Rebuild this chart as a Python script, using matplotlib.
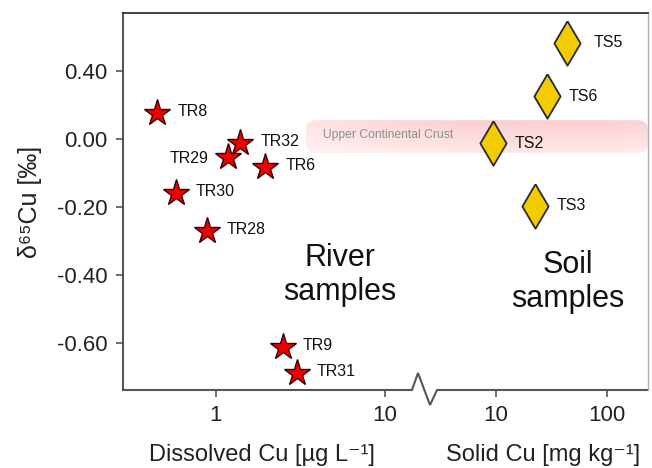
import matplotlib.pyplot as plt
import numpy as np
from matplotlib.patches import FancyBboxPatch
from matplotlib.lines import Line2D
from matplotlib.ticker import NullLocator

plt.rcParams['font.family'] = ['Liberation Sans', 'DejaVu Sans']

# River samples: dissolved Cu (ug/L) vs d65Cu
river_names = ["TR8", "TR32", "TR29", "TR6", "TR30", "TR28", "TR9", "TR31"]
river_cu = [0.45, 1.39, 1.18, 1.95, 0.58, 0.88, 2.49, 3.01]
river_d65 = [0.077, -0.011, -0.052, -0.081, -0.158, -0.27, -0.61, -0.687]

# Soil samples: solid Cu (mg/kg) vs d65Cu
soil_names = ["TS5", "TS6", "TS2", "TS3"]
soil_cu = [43.6, 28.8, 9.4, 22.4]
soil_d65 = [0.283, 0.127, -0.011, -0.196]

# Upper continental crust band
ucc_low, ucc_high = -0.041, 0.056
ucc_start = 3.4  # on dissolved axis

yticks = [0.2, 0.0, -0.2, -0.4, -0.6]
ytick_labels = ["0.40", "0.00", "-0.20", "-0.40", "-0.60"]
left_xticks = [1, 10]
right_xticks = [10, 100]

W, H = 652, 468
L, R, T, B, BRK = 123, 648, 12.7, 390, 424

fig = plt.figure(figsize=(W / 100, H / 100), dpi=100)
ax1 = fig.add_axes([L / W, 1 - B / H, (BRK - L) / W, (B - T) / H])
ax2 = fig.add_axes([BRK / W, 1 - B / H, (R - BRK) / W, (B - T) / H], sharey=ax1)
ax1.set_zorder(0)
ax2.set_zorder(2)
ax2.patch.set_visible(False)

for ax in (ax1, ax2):
    ax.set_xscale('log')
    ax.xaxis.set_minor_locator(NullLocator())
    ax.spines['bottom'].set_visible(False)
    ax.spines['top'].set_color('#333333')
    ax.spines['top'].set_linewidth(1.3)
    ax.tick_params(axis='both', direction='out', length=5, width=1.2, color='#555555',
                   labelsize=16, labelcolor='#222222', pad=6)

ax1.set_xlim(0.282, 17.0)
ax2.set_xlim(2.245, 234)
ax1.set_ylim(-0.737, 0.372)

ax1.spines['right'].set_visible(False)
ax1.spines['left'].set_color('#555555')
ax1.spines['left'].set_linewidth(1.5)
ax2.spines['left'].set_visible(False)
ax2.spines['right'].set_color('#b0b0b0')
ax2.spines['right'].set_linewidth(1.0)

ax1.set_yticks(yticks)
ax1.set_yticklabels(ytick_labels)
ax2.tick_params(axis='y', left=False, labelleft=False)
ax1.set_xticks(left_xticks)
ax1.set_xticklabels([str(v) for v in left_xticks])
ax2.set_xticks(right_xticks)
ax2.set_xticklabels([str(v) for v in right_xticks])

# markers
ax1.plot(river_cu, river_d65, linestyle='none', marker='*', markersize=20,
         markerfacecolor='#ee0000', markeredgecolor='#3a0000', markeredgewidth=1.0)
diamond = [(0, 1), (0.59, 0), (0, -1), (-0.59, 0), (0, 1)]
ax2.plot(soil_cu, soil_d65, linestyle='none', marker=diamond, markersize=32,
         markerfacecolor='#f2cc00', markeredgecolor='#2a2a2a', markeredgewidth=1.3)

river_off = {"TR29": (-14, -1)}
for name, x, y in zip(river_names, river_cu, river_d65):
    dx, dy = river_off.get(name, (14.5, 1))
    ax1.annotate(name, (x, y), xytext=(dx, dy), textcoords='offset points',
                 ha='left' if dx > 0 else 'right', va='center', fontsize=11.5, color='#111111')

soil_off = {"TS5": 19}
for name, x, y in zip(soil_names, soil_cu, soil_d65):
    dx = soil_off.get(name, 15.5)
    ax2.annotate(name, (x, y), xytext=(dx, 0), textcoords='offset points',
                 ha='left', va='center', fontsize=11.5, color='#111111')

# UCC band as gradient, spanning both panels (band axes in pixel units)
x0, y0 = ax1.transData.transform((ucc_start, ucc_low))
_, y1 = ax1.transData.transform((ucc_start, ucc_high))
x1 = R
bw, bh = x1 - x0, y1 - y0
bax = fig.add_axes([x0 / W, y0 / H, bw / W, bh / H])
bax.set_zorder(1)
bax.set_axis_off()
bax.set_xlim(0, bw)
bax.set_ylim(0, bh)
hh = np.linspace(0, 1, 300)[None, :]
vv = np.linspace(0, 1, 40)[:, None]
alpha = (0.17 + 0.13 * np.sin(np.pi * np.clip(hh * 0.75, 0, 1))) * (0.45 + 0.55 * vv)
img = np.zeros((40, 300, 4))
img[..., 0] = 0.95
img[..., 1] = 0.33
img[..., 2] = 0.36
img[..., 3] = alpha
im = bax.imshow(img, extent=(0, bw, 0, bh), origin='lower', aspect='auto')
clip = FancyBboxPatch((0.0, 0.0), bw, bh, boxstyle='round,pad=0,rounding_size=10',
                      facecolor='none', edgecolor='none')
bax.add_patch(clip)
im.set_clip_path(clip)
bax.text(17, bh * 0.56, "Upper Continental Crust", ha='left', va='center',
         fontsize=8.7, color='#8e8e8e',
         family=['Liberation Sans Narrow', 'Liberation Sans', 'DejaVu Sans'])

# bottom spine with break symbol
bx = [L, BRK - 12, BRK - 6, BRK + 6, BRK + 13, R]
by = [B, B, B - 17, B + 15, B, B]
fig.add_artist(Line2D([v / W for v in bx], [1 - v / H for v in by], color='#555555',
                      linewidth=1.5, transform=fig.transFigure, solid_joinstyle='miter'))

# group labels
fig.text(340 / W, 1 - 275 / H, "River\nsamples", ha='center', va='center', fontsize=22,
         color='#111111', linespacing=1.15)
fig.text(568 / W, 1 - 282 / H, "Soil\nsamples", ha='center', va='center', fontsize=22,
         color='#111111', linespacing=1.15)

# axis labels
fig.text(262 / W, 1 - 455 / H, "Dissolved Cu [µg L⁻¹]", ha='center', va='center', fontsize=17,
         color='#222222')
fig.text(543 / W, 1 - 455 / H, "Solid Cu [mg kg⁻¹]", ha='center', va='center', fontsize=17,
         color='#222222')
fig.text(30 / W, 1 - 202 / H, "δ⁶⁵Cu [‰]", ha='center', va='center', rotation=90,
         fontsize=18, color='#222222')

fig.savefig('out.png', dpi=100)
